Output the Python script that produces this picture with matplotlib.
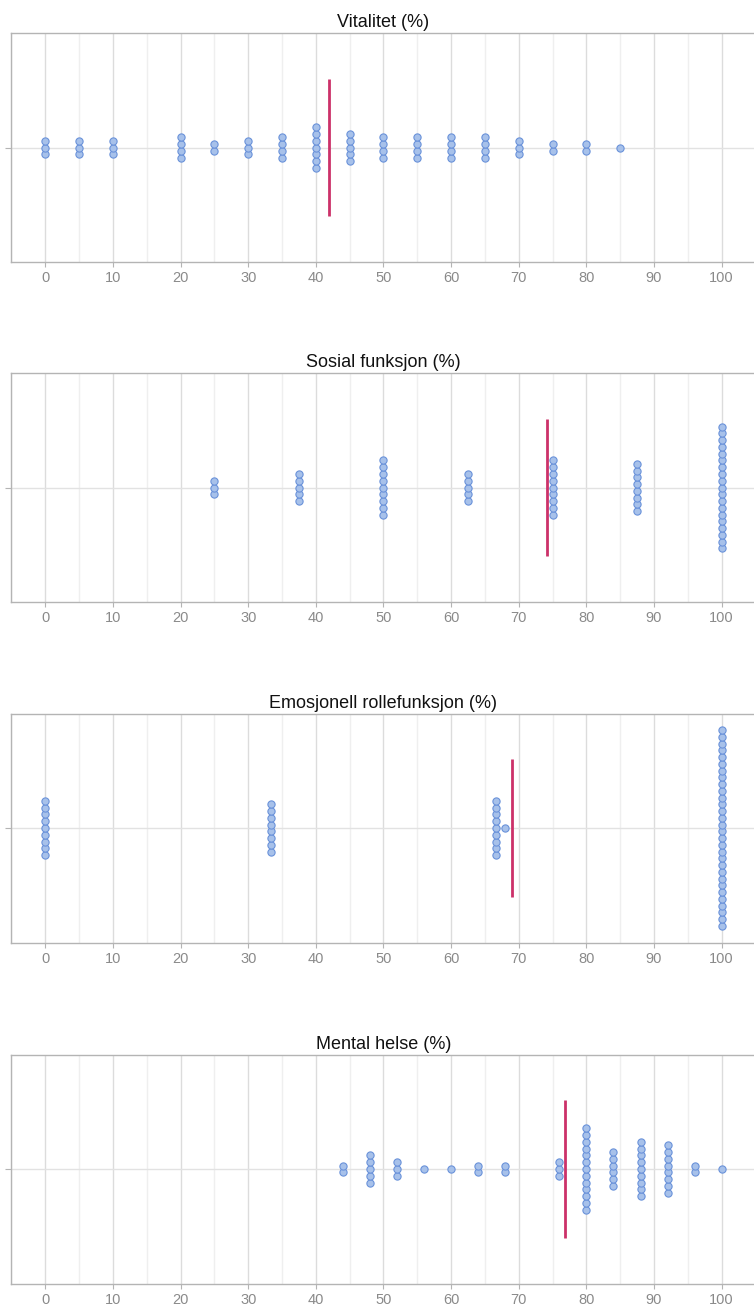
import numpy as np
import matplotlib
matplotlib.use("Agg")
import matplotlib.pyplot as plt
from matplotlib.ticker import MultipleLocator

plt.rcParams["font.family"] = ["Liberation Sans", "DejaVu Sans"]

# score -> number of respondents with that score
vit_scores = [0, 5, 10, 20, 25, 30, 35, 40, 45, 50, 55, 60, 65, 70, 75, 80, 85]
vit_counts = [3, 3, 3, 4, 2, 3, 4, 7, 5, 4, 4, 4, 4, 3, 2, 2, 1]

sos_scores = [25, 37.5, 50, 62.5, 75, 87.5, 100]
sos_counts = [3, 5, 9, 5, 9, 8, 19]

emo_scores = [0, 33.33, 66.67, 68, 100]
emo_counts = [9, 8, 9, 1, 30]

men_scores = [44, 48, 52, 56, 60, 64, 68, 76, 80, 84, 88, 92, 96, 100]
men_counts = [2, 5, 3, 1, 1, 2, 2, 3, 13, 6, 9, 8, 2, 1]

titles = ["Vitalitet (%)", "Sosial funksjon (%)",
          "Emosjonell rollefunksjon (%)", "Mental helse (%)"]
panels = [(vit_scores, vit_counts), (sos_scores, sos_counts),
          (emo_scores, emo_counts), (men_scores, men_counts)]

DOT_FACE = "#a7c1ea"
DOT_EDGE = "#6a92da"
MEAN_COLOR = "#cc3169"
STEP = 0.059        # vertical spacing between stacked dots
MEAN_HALF = 0.6     # half-height of the mean marker

fig = plt.figure(figsize=(7.54, 13.09), dpi=100)
W, H = 754.0, 1309.0
tops = [33, 373, 713.5, 1054.5]
ax_h = 229

for (scores, counts), title, top in zip(panels, titles, tops):
    ax = fig.add_axes([11.4 / W, 1 - (top + ax_h) / H, 744.1 / W, ax_h / H])

    xs, ys = [], []
    for s, n in zip(scores, counts):
        for i in range(n):
            xs.append(s)
            ys.append((i - (n - 1) / 2) * STEP)

    ax.scatter(xs, ys, s=27, facecolor=DOT_FACE, edgecolor=DOT_EDGE,
               linewidth=0.8, zorder=3)

    mean = np.repeat(scores, counts).mean()
    ax.plot([mean, mean], [-MEAN_HALF, MEAN_HALF], color=MEAN_COLOR,
            linewidth=2.0, zorder=4, solid_capstyle="butt")

    ax.set_xlim(-5, 105)
    ax.set_ylim(-1, 1)
    ax.xaxis.set_major_locator(MultipleLocator(10))
    ax.xaxis.set_minor_locator(MultipleLocator(5))
    ax.set_yticks([0])
    ax.set_yticklabels([])

    ax.grid(True, which="major", axis="x", color="#dcdcdc", linewidth=1.0)
    ax.grid(True, which="minor", axis="x", color="#efefef", linewidth=1.0)
    ax.grid(True, which="major", axis="y", color="#e2e2e2", linewidth=1.0)
    ax.set_axisbelow(True)

    for side in ["left", "bottom", "top"]:
        ax.spines[side].set_color("#b4b4b4")
        ax.spines[side].set_linewidth(1.0)
    ax.spines["right"].set_visible(False)

    ax.tick_params(axis="x", which="major", length=3.6, color="#b4b4b4",
                   labelcolor="#8a8a8a", labelsize=10.5, pad=3.0)
    ax.tick_params(axis="x", which="minor", length=0)
    ax.tick_params(axis="y", length=4.5, color="#b4b4b4")

    ax.set_title(title, fontsize=13, color="#111111", pad=4)

fig.savefig("out.png", dpi=100, facecolor="white")
